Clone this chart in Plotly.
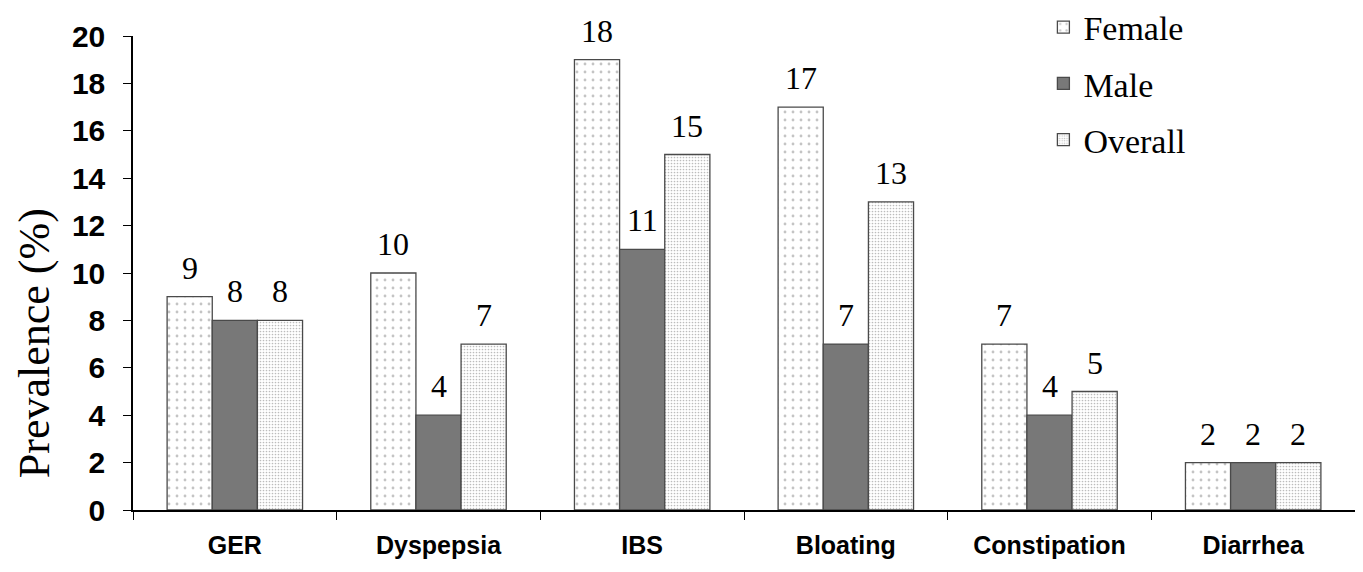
import plotly.graph_objects as go

categories = ["GER", "Dyspepsia", "IBS", "Bloating", "Constipation", "Diarrhea"]
female = [9, 10, 19, 17, 7, 2]
female_labels = ["9", "10", "18", "17", "7", "2"]
male = [8, 4, 11, 7, 4, 2]
male_labels = ["8", "4", "11", "7", "4", "2"]
overall = [8, 7, 15, 13, 5, 2]
overall_labels = ["8", "7", "15", "13", "5", "2"]
y_ticks = [0, 2, 4, 6, 8, 10, 12, 14, 16, 18, 20]

serif = "Liberation Serif, Times New Roman, serif"
sans = "Liberation Sans, Arial, sans-serif"
outline = dict(color="#4a4a4a", width=1.3)
BARGAP = 0.335

series = [
    ("Female", female, female_labels,
     dict(color="white", line=outline,
          pattern=dict(shape=".", size=8, solidity=0.1, fgcolor="#8a8a8a", bgcolor="white"))),
    ("Male", male, male_labels, dict(color="#787878", line=outline)),
    ("Overall", overall, overall_labels,
     dict(color="white", line=outline,
          pattern=dict(shape=".", size=3, solidity=0.25, fgcolor="#7a7a7a", bgcolor="white"))),
]

fig = go.Figure()
annotations = []
bar_w = (1 - BARGAP) / len(series)
for k, (name, vals, labels, marker) in enumerate(series):
    fig.add_trace(go.Bar(name=name, x=categories, y=vals, marker=marker,
                         legendgroup=name, cliponaxis=False))
    off = (k - (len(series) - 1) / 2) * bar_w
    for i, (v, lab) in enumerate(zip(vals, labels)):
        annotations.append(dict(
            x=i + off, y=v, xref="x", yref="y", text=lab, showarrow=False,
            xanchor="center", yanchor="bottom", yshift=9,
            font=dict(family=serif, size=32, color="black")))

annotations.append(dict(
    x=-0.081, y=0.352, xref="paper", yref="paper", text="Prevalence (%)",
    textangle=-90, showarrow=False, xanchor="center", yanchor="middle",
    font=dict(family=serif, size=44, color="black")))

# the page body has an 8px margin, so the figure is sized to fit the window
fig.update_layout(
    width=1355, height=564,
    margin=dict(l=125, r=8, t=28, b=62, autoexpand=False),
    plot_bgcolor="white", paper_bgcolor="white",
    barmode="group", bargap=BARGAP, bargroupgap=0,
    annotations=annotations,
    legend=dict(x=0.745, y=1.079, xanchor="left", yanchor="top",
                font=dict(family=serif, size=34, color="black"),
                tracegroupgap=9, bgcolor="rgba(0,0,0,0)"),
    xaxis=dict(showline=True, linecolor="black", linewidth=1.5, ticks="outside",
               tickson="boundaries", ticklen=8, tickcolor="black",
               ticklabelstandoff=12,
               tickfont=dict(family=sans, size=25, color="black", weight="bold"),
               showgrid=False),
    yaxis=dict(range=[0, 20], tickvals=y_ticks, showline=True, linecolor="black",
               linewidth=1.5, ticks="outside", ticklen=8, tickcolor="black",
               ticklabelstandoff=12,
               tickfont=dict(family=sans, size=30, color="black", weight="bold"),
               showgrid=False, zeroline=False),
)

fig.write_html("out.html")
